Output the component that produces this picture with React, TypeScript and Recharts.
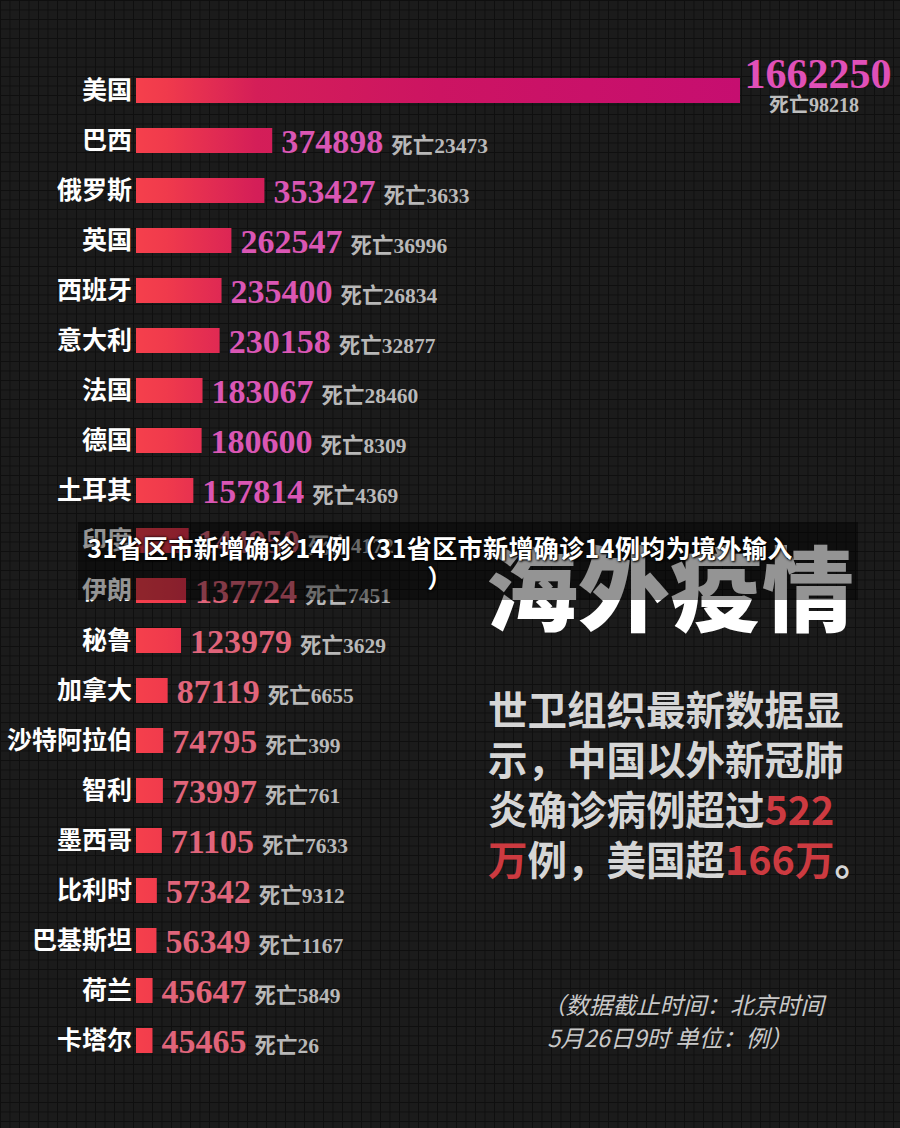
import { Bar, BarChart, LabelList, XAxis, YAxis } from 'recharts';

// 各国累计确诊 / 死亡（截至5月26日9时）
const countries = ['美国', '巴西', '俄罗斯', '英国', '西班牙', '意大利', '法国', '德国', '土耳其', '印度', '伊朗', '秘鲁', '加拿大', '沙特阿拉伯', '智利', '墨西哥', '比利时', '巴基斯坦', '荷兰', '卡塔尔'];
const cases = [1662250, 374898, 353427, 262547, 235400, 230158, 183067, 180600, 157814, 144950, 137724, 123979, 87119, 74795, 73997, 71105, 57342, 56349, 45647, 45465];
const deaths = [98218, 23473, 3633, 36996, 26834, 32877, 28460, 8309, 4369, 4172, 7451, 3629, 6655, 399, 761, 7633, 9312, 1167, 5849, 26];

const data = countries.map((name, i) => ({ name, cases: cases[i] }));

const numFont = "'Liberation Serif', 'Noto Sans CJK SC', serif";
const cjkFont = "'Noto Sans CJK SC', sans-serif";

function ValueLabel(props: any) {
  const { x, y, width, height, value } = props;
  const i = props.index ?? cases.indexOf(Number(value));
  const end = Number(x) + Number(width);
  const cy = Number(y) + Number(height) / 2;
  const deathText = '死亡' + deaths[i];
  if (i === 0) {
    return (
      <g>
        <text x={end + 78} y={cy - 3} textAnchor="middle" fill="#e050b8" fontSize={42} fontWeight={700} fontFamily={numFont}>
          {value}
        </text>
        <text x={end + 74} y={cy + 21} textAnchor="middle" fill="#bdbdbd" fontSize={20} fontWeight={700} fontFamily={numFont}>
          {deathText}
        </text>
      </g>
    );
  }
  const color = i <= 8 ? '#da56b4' : '#e0647a';
  return (
    <text x={end + 9} y={cy + 12} fontFamily={numFont} fontWeight={700}>
      <tspan fill={color} fontSize={34}>{value}</tspan>
      <tspan fill="#b8b8b8" fontSize={21.5} dx={8}>{deathText}</tspan>
    </text>
  );
}

export default function App() {
  return (
    <div
      style={{
        position: 'absolute',
        left: 0,
        top: 0,
        width: 900,
        height: 1128,
        overflow: 'hidden',
        backgroundColor: '#1b1b1b',
        backgroundImage:
          'linear-gradient(#0f0f0f 1px, transparent 1px), linear-gradient(90deg, #0f0f0f 1px, transparent 1px)',
        backgroundSize: '9.5px 9.5px',
      }}
    >
      <BarChart
        width={900}
        height={1128}
        data={data}
        layout="vertical"
        margin={{ top: 65, right: 160, bottom: 63, left: 0 }}
        style={{ position: 'absolute', left: 0, top: 0 }}
      >
        <defs>
          <linearGradient id="barGrad" gradientUnits="userSpaceOnUse" x1={136} y1={0} x2={740} y2={0}>
            <stop offset="0" stopColor="#f5404c" />
            <stop offset="0.05" stopColor="#f03a4c" />
            <stop offset="0.2" stopColor="#d41e58" />
            <stop offset="0.5" stopColor="#cc1462" />
            <stop offset="1" stopColor="#c60e70" />
          </linearGradient>
        </defs>
        <XAxis type="number" dataKey="cases" domain={[0, 1662250]} hide />
        <YAxis
          type="category"
          dataKey="name"
          width={136}
          interval={0}
          tickLine={false}
          axisLine={false}
          tickSize={0}
          tickMargin={4}
          tick={{ fill: '#ffffff', fontSize: 25, fontWeight: 700, fontFamily: cjkFont }}
        />
        <Bar dataKey="cases" fill="url(#barGrad)" barSize={25} isAnimationActive={false}>
          <LabelList dataKey="cases" content={ValueLabel} />
        </Bar>
      </BarChart>

      {/* 海外疫情 */}
      <div
        style={{
          position: 'absolute',
          left: 486,
          top: 538,
          fontFamily: cjkFont,
          fontWeight: 900,
          fontSize: 92,
          lineHeight: '92px',
          color: '#ffffff',
          whiteSpace: 'nowrap',
        }}
      >
        海外疫情
      </div>

      {/* 半透明遮罩 */}
      <div
        style={{
          position: 'absolute',
          left: 78,
          top: 522,
          width: 780,
          height: 78,
          background: 'rgba(0,0,0,0.42)',
        }}
      />

      {/* 标题水印 */}
      <div
        style={{
          position: 'absolute',
          left: 0,
          top: 532,
          width: 880,
          textAlign: 'center',
          fontFamily: cjkFont,
          fontWeight: 700,
          fontSize: 25,
          letterSpacing: 0.4,
          lineHeight: '30px',
          color: '#ffffff',
          textShadow: '0 0 3px #000, 1px 1px 2px #000',
        }}
      >
        31省区市新增确诊14例（31省区市新增确诊14例均为境外输入
        <br />）
      </div>

      {/* 说明文字 */}
      <div
        style={{
          position: 'absolute',
          left: 488,
          top: 683,
          fontFamily: cjkFont,
          fontWeight: 700,
          fontSize: 39.5,
          lineHeight: '50px',
          color: '#d6d6d6',
          whiteSpace: 'nowrap',
        }}
      >
        <div>世卫组织最新数据显</div>
        <div>示，中国以外新冠肺</div>
        <div>
          炎确诊病例超过<span style={{ color: '#cc3a40' }}>522</span>
        </div>
        <div>
          <span style={{ color: '#cc3a40' }}>万</span>例，美国超<span style={{ color: '#cc3a40' }}>166万</span>。
        </div>
      </div>

      <div
        style={{
          position: 'absolute',
          left: 542,
          top: 988,
          fontFamily: cjkFont,
          fontWeight: 400,
          fontStyle: 'italic',
          fontSize: 23.5,
          lineHeight: '33px',
          color: '#c8c8c8',
          whiteSpace: 'nowrap',
        }}
      >
        <div>（数据截止时间：北京时间</div>
        <div>&nbsp;5月26日9时 单位：例）</div>
      </div>
    </div>
  );
}
